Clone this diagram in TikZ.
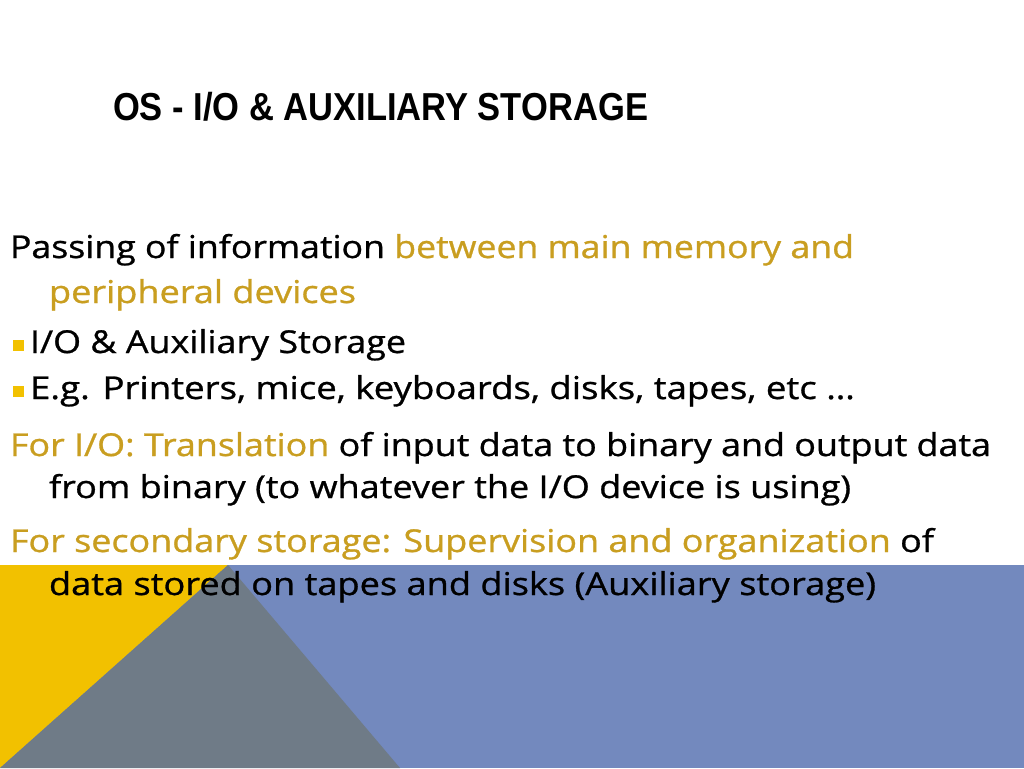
\documentclass[tikz,border=0pt]{standalone}
\usepackage{fontspec}
\setmainfont{Liberation Sans}
\newfontfamily\bodyfont[FakeBold=0.8]{Open Sans}
\usepackage{graphicx}
\definecolor{goldtxt}{RGB}{201,158,32}
\definecolor{triyellow}{RGB}{242,193,0}
\definecolor{trigray}{RGB}{111,123,135}
\definecolor{bandblue}{RGB}{115,137,190}
\definecolor{bulletc}{RGB}{242,193,0}
\newlength\fitw
\newcommand\fitline[2]{\settowidth\fitw{#2}\edef\fitf{\fpeval{#1/\fitw}}\scalebox{\fitf}[1]{#2}}
\tikzset{
  txt/.style={anchor=base west, inner sep=0pt, outer sep=0pt, text=black},
  body/.style={txt, font=\bodyfont\fontsize{31.5}{31.5}\selectfont},
  ttl/.style={txt, font=\fontsize{39}{39}\selectfont\bfseries},
  bul/.style={fill=bulletc}
}
\begin{document}
\begin{tikzpicture}[x=1pt,y=-1pt]
\useasboundingbox (0,0) rectangle (1024,768);
\fill[white] (0,0) rectangle (1024,768);
% bottom decoration
\fill[bandblue] (0,565) rectangle (1024,768);
\fill[triyellow] (0,565) -- (228,565) -- (0,768) -- cycle;
\fill[trigray] (228,565) -- (400,768) -- (0,768) -- cycle;
% title
\node[ttl] (title) at (113,120) {\fitline{535}{OS - I/O \& AUXILIARY STORAGE}};
% body
\node[body] (l1) at (10,258) {\fitline{844}{Passing of information \textcolor{goldtxt}{between main memory and}}};
\node[body] (l2) at (49,303) {\fitline{307}{\textcolor{goldtxt}{peripheral devices}}};
\fill[bul] (13,340) rectangle (24,351);
\node[body] (b1) at (30,353) {\fitline{376}{I/O \& Auxiliary Storage}};
\fill[bul] (13,386) rectangle (24,397);
\node[body] (b2) at (30,399) {\fitline{825}{E.g. Printers, mice, keyboards, disks, tapes, etc \dots}};
\node[body] (l5) at (10,456) {\fitline{981}{\textcolor{goldtxt}{For I/O: Translation} of input data to binary and output data}};
\node[body] (l6) at (49,498) {\fitline{802}{from binary (to whatever the I/O device is using)}};
\node[body] (l7) at (10,552) {\fitline{924}{\textcolor{goldtxt}{For secondary storage: Supervision and organization} of}};
\node[body] (l8) at (49,595) {\fitline{827}{data stored on tapes and disks (Auxiliary storage)}};
\end{tikzpicture}
\end{document}
